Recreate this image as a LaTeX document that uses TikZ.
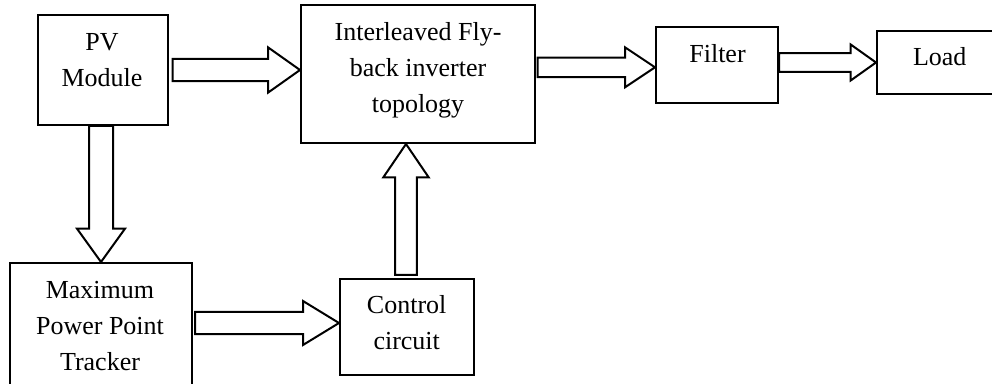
\documentclass[tikz,border=0pt]{standalone}
\usepackage{fontspec}
\setmainfont{Liberation Serif}
\usetikzlibrary{calc}

\tikzset{
  block/.style={draw, line width=1.5pt, rectangle, inner sep=0pt},
  blocktext/.style={anchor=north, inner sep=0pt, align=center, font=\fontsize{19.5}{27}\selectfont},
  fat/.style={draw, line width=1.5pt, line join=miter, fill=white},
}

% hollow arrow: shaft half width, head half width, head length, start, tip
\newcommand{\fatarrow}[5]{%
  \path #4 coordinate (fa-s) #5 coordinate (fa-t);
  \path ($(fa-t)!#3!(fa-s)$) coordinate (fa-b);
  \draw[fat] ($(fa-s)!#1!90:(fa-t)$) -- ($(fa-b)!#1!90:(fa-t)$) -- ($(fa-b)!#2!90:(fa-t)$) -- (fa-t)
    -- ($(fa-b)!#2!-90:(fa-t)$) -- ($(fa-b)!#1!-90:(fa-t)$) -- ($(fa-s)!#1!-90:(fa-t)$) -- cycle;
}

\begin{document}
\begin{tikzpicture}[x=0.75pt,y=0.75pt,yscale=-1,xscale=1]
\useasboundingbox (0,0) rectangle (992,384);
\clip (0,0) rectangle (992,384);

% Blocks
\node[block, minimum width=97.5pt, minimum height=82.5pt] (pv) at (103,70) {};
\node[block, minimum width=175.5pt, minimum height=103.5pt] (inv) at (418,74) {};
\node[block, minimum width=91.5pt, minimum height=57pt] (filter) at (717,65) {};
\node[block, minimum width=105pt, minimum height=47.25pt] (load) at (947,62.5) {};
\node[block, minimum width=136.5pt, minimum height=96.75pt] (mppt) at (101,327.5) {};
\node[block, minimum width=100.5pt, minimum height=72pt] (ctrl) at (407,327) {};

% Text Node
\node[blocktext] (pvtext) at (102,24.8) {\strut PV\\Module};
\node[blocktext] (invtext) at (418,14.8) {\strut Interleaved Fly-\\back inverter\\topology};
\node[blocktext] (filtertext) at (717.5,37.5) {\strut Filter};
\node[blocktext] (loadtext) at (939.7,39.8) {\strut Load};
\node[blocktext] (mppttext) at (100,273.1) {\strut Maximum\\Power Point\\Tracker};
\node[blocktext] (ctrltext) at (406.7,288.1) {\strut Control\\circuit};

% Arrows
\fatarrow{8.4pt}{17pt}{24pt}{($(pv.east)+(3.7,0)$)}{(inv.west|-pv.east)}
\fatarrow{7.3pt}{15pt}{22.5pt}{($(inv.east|-filter.west)+(1.7,2.3)$)}{($(filter.west)+(0,2.3)$)}
\fatarrow{7.1pt}{13.5pt}{19pt}{(filter.east|-load.west)}{(load.west)}
\fatarrow{9pt}{18pt}{25pt}{(pv.south-|mppt.north)}{(mppt.north)}
\fatarrow{8.4pt}{16.5pt}{27pt}{($(mppt.east|-ctrl.west)+(2,-4)$)}{($(ctrl.west)+(0,-4)$)}
\fatarrow{8.1pt}{17pt}{25pt}{($(ctrl.north)+(-1,-3)$)}{($(ctrl.north|-inv.south)+(-1,0)$)}

\end{tikzpicture}
\end{document}
